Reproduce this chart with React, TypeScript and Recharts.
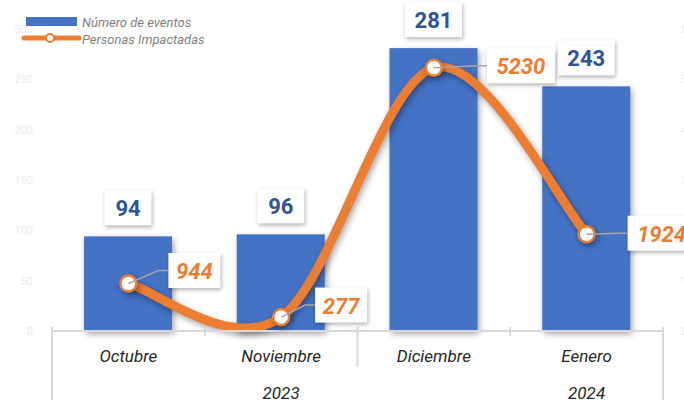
import React from "react"
import {
  ComposedChart,
  Bar,
  Line,
  XAxis,
  YAxis,
  LabelList
} from "recharts"

const months = ["Octubre", "Noviembre", "Diciembre", "Eenero"]
const years = ["2023", "2023", "2023", "2024"]
const eventos = [94, 96, 281, 243]
const personas = [944, 277, 5230, 1924]
const leftTicks = [0, 50, 100, 150, 200, 250, 300]
const rightTicks = [0, 1000, 2000, 3000, 4000, 5000, 6000]

const data = months.map((m, i) => ({
  month: m,
  year: years[i],
  eventos: eventos[i],
  personas: personas[i]
}))

const W = 684
const H = 400
const LEFT = 52
const RIGHT = 21
const TOP = 29
const BOTTOM = 69
const HALF = (W - LEFT - RIGHT) / months.length / 2

const BLUE = "#4472C4"
const ORANGE = "#ED7D31"
const AXIS = "#d9d9d9"
const FONT = "Roboto, 'Noto Sans', sans-serif"
const SHADOW = "drop-shadow(2px 3px 3px rgba(0,0,0,0.35))"
const BOX_SHADOW = "drop-shadow(1px 2px 2px rgba(0,0,0,0.3))"
// label placement next to each line point
const LINE_LABEL_DX = [40, 34, 53, 41]
const LINE_LABEL_DY = [-13, -12, -2, -1]

// excel-like smoothing (catmull-rom through the points)
function smoothCurve(context: any) {
  let pts: number[][] = []
  return {
    areaStart() {},
    areaEnd() {},
    lineStart() {
      pts = []
    },
    point(x: number, y: number) {
      pts.push([+x, +y])
    },
    lineEnd() {
      if (!pts.length) return
      context.moveTo(pts[0][0], pts[0][1])
      for (let i = 0; i < pts.length - 1; i++) {
        const p0 = pts[i - 1] || pts[i]
        const p1 = pts[i]
        const p2 = pts[i + 1]
        const p3 = pts[i + 2] || pts[i + 1]
        context.bezierCurveTo(
          p1[0] + (p2[0] - p0[0]) / 6,
          p1[1] + (p2[1] - p0[1]) / 6,
          p2[0] - (p3[0] - p1[0]) / 6,
          p2[1] - (p3[1] - p1[1]) / 6,
          p2[0],
          p2[1]
        )
      }
    }
  }
}

function BarShape(props: any) {
  const { x, y, width, height } = props
  return (
    <rect
      x={x}
      y={y}
      width={width}
      height={height}
      fill={BLUE}
      style={{ filter: SHADOW }}
    />
  )
}

function BarValueLabel(props: any) {
  const { x, y, width, value } = props
  const cx = x + width / 2
  const w = String(value).length * 10 + 27
  const h = 35
  const top = y - 11 - h
  return (
    <g>
      <rect x={cx - w / 2} y={top} width={w} height={h} fill="#fff" style={{ filter: BOX_SHADOW }} />
      <text
        x={cx}
        y={top + h / 2 + 1}
        textAnchor="middle"
        dominantBaseline="central"
        fontFamily={FONT}
        fontWeight={700}
        fontSize={22}
        fill="#2F5597"
      >
        {value}
      </text>
    </g>
  )
}

function LineValueLabel(props: any) {
  const { x, y, value, index } = props
  const w = String(value).length * 16 + 4
  const h = 35
  const cy = y + LINE_LABEL_DY[index]
  const left = x + LINE_LABEL_DX[index]
  return (
    <g>
      <polyline
        points={`${x},${y} ${left - 10},${cy} ${left},${cy}`}
        fill="none"
        stroke="#a6a6a6"
        strokeWidth={1.5}
      />
      <rect x={left} y={cy - h / 2} width={w} height={h} fill="#fff" style={{ filter: BOX_SHADOW }} />
      <text
        x={left + w / 2}
        y={cy + 1}
        textAnchor="middle"
        dominantBaseline="central"
        fontFamily={FONT}
        fontWeight={700}
        fontStyle="italic"
        fontSize={22}
        fill={ORANGE}
      >
        {value}
      </text>
    </g>
  )
}

function MonthTick(props: any) {
  const { x, y, payload, index } = props
  const i = index ?? payload.index
  const last = i === months.length - 1
  // the year sits under the middle month of its group
  const start = years.indexOf(years[i])
  const end = years.lastIndexOf(years[i])
  const showYear = i === Math.floor((start + end) / 2)
  let bottom = y + 5
  if (last) bottom = H
  else if (i === 1) bottom = y + 36
  return (
    <g>
      {i === 0 && (
        <line x1={x - HALF} x2={x - HALF} y1={y - 4} y2={H} stroke={AXIS} strokeWidth={2} />
      )}
      <line x1={x + HALF} x2={x + HALF} y1={y - 4} y2={bottom} stroke={AXIS} strokeWidth={2} />
      <text
        x={x}
        y={y + 25}
        textAnchor="middle"
        dominantBaseline="central"
        fontFamily={FONT}
        fontStyle="italic"
        fontSize={17}
        fill="#262626"
      >
        {payload.value}
      </text>
      {showYear && (
        <text
          x={x}
          y={y + 62}
          textAnchor="middle"
          dominantBaseline="central"
          fontFamily={FONT}
          fontStyle="italic"
          fontSize={17}
          fill="#262626"
        >
          {years[i]}
        </text>
      )}
    </g>
  )
}

function LegendBox() {
  return (
    <svg width={240} height={50} style={{ position: "absolute", left: 0, top: 0 }}>
      <rect x={26} y={17} width={51} height={9} fill={BLUE} />
      <text x={82} y={22} dominantBaseline="central" fontFamily={FONT} fontStyle="italic" fontSize={13} fill="#7f7f7f">
        Número de eventos
      </text>
      <line x1={24} x2={79} y1={38} y2={38} stroke={ORANGE} strokeWidth={5} strokeLinecap="round" />
      <circle cx={50} cy={38} r={4} fill="#fff" stroke={ORANGE} strokeWidth={2} />
      <text x={82} y={39} dominantBaseline="central" fontFamily={FONT} fontStyle="italic" fontSize={13} fill="#7f7f7f">
        Personas Impactadas
      </text>
    </svg>
  )
}

export default function App() {
  return (
    <div style={{ position: "absolute", left: 0, top: 0, width: W, height: H, background: "#fff" }}>
      <ComposedChart
        width={W}
        height={H}
        data={data}
        margin={{ top: TOP, right: 0, left: 0, bottom: 0 }}
      >
        <XAxis
          dataKey="month"
          height={BOTTOM}
          axisLine={{ stroke: AXIS, strokeWidth: 2 }}
          tickLine={false}
          tickSize={0}
          tickMargin={0}
          interval={0}
          tick={<MonthTick />}
        />
        <YAxis
          yAxisId="left"
          width={LEFT}
          domain={[0, 300]}
          ticks={leftTicks}
          axisLine={false}
          tickLine={false}
          tickMargin={13}
          tick={{ fill: "#ebebeb", fontSize: 11, fontFamily: FONT }}
        />
        <YAxis
          yAxisId="right"
          orientation="right"
          width={RIGHT}
          domain={[0, 6000]}
          ticks={rightTicks}
          axisLine={false}
          tickLine={false}
          tickMargin={12}
          tick={{ fill: "#ebebeb", fontSize: 11, fontFamily: FONT, textAnchor: "start" }}
        />
        <Bar
          yAxisId="left"
          dataKey="eventos"
          barSize={88}
          shape={<BarShape />}
          isAnimationActive={false}
        >
          <LabelList dataKey="eventos" content={<BarValueLabel />} />
        </Bar>
        <Line
          yAxisId="right"
          dataKey="personas"
          type={smoothCurve as any}
          stroke={ORANGE}
          strokeWidth={9}
          style={{ filter: SHADOW }}
          dot={{ r: 8, fill: "#fff", stroke: ORANGE, strokeWidth: 2.5 }}
          activeDot={false}
          isAnimationActive={false}
        >
          <LabelList dataKey="personas" content={<LineValueLabel />} />
        </Line>
      </ComposedChart>
      <LegendBox />
    </div>
  )
}
